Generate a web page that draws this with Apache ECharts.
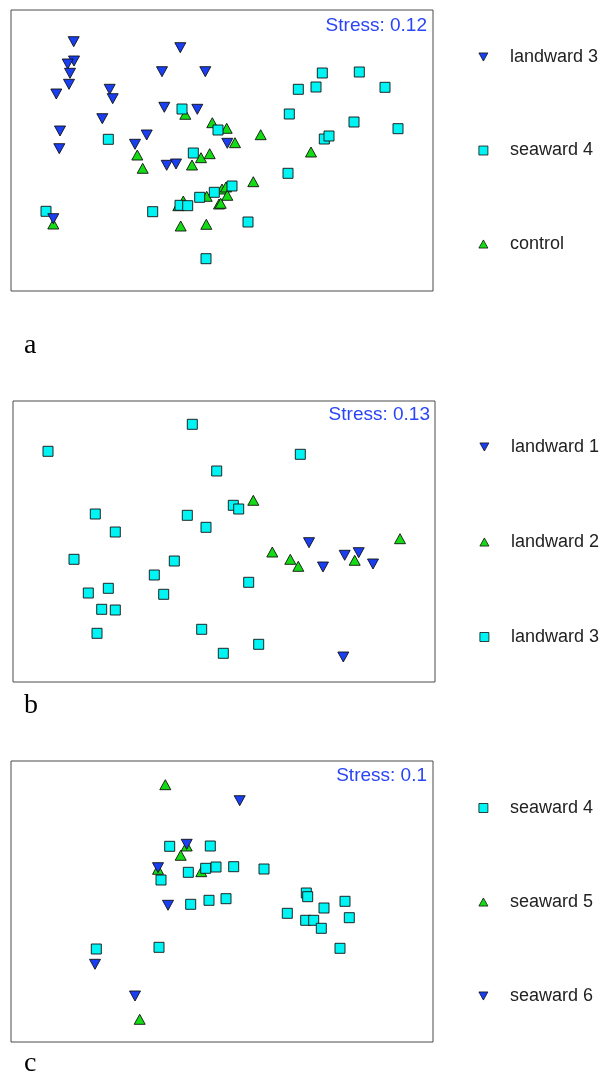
<!DOCTYPE html>
<html><head><meta charset="utf-8">
<script src="https://cdn.jsdelivr.net/npm/echarts@6/dist/echarts.min.js"></script>
<style>
html,body{margin:0;padding:0;background:#fff;width:605px;height:1075px;overflow:hidden}
.c{position:absolute;left:0;width:605px}
</style></head>
<body>
<div id="ca" class="c" style="top:0;height:370px"></div>
<div id="cb" class="c" style="top:380px;height:355px"></div>
<div id="cc" class="c" style="top:740px;height:335px"></div>
<script>
// ---- Data: MDS ordination coordinates (x to the right, y downward, arbitrary units) ----
const xRange = [0, 422];
const yRange = [0, 281];

// Panel a
const aNames = ['landward 3', 'seaward 4', 'control'];
const aStress = 'Stress: 0.12';
const a_landward3 = [[62.7,31.7],[169.3,37.7],[63,51],[56.7,54],[59,63.3],[151,61.7],[194.3,61.7],[58,74.3],[45.3,84],[98.7,79.3],[101.7,88.7],[153.3,97.3],[186.3,99.3],[91.3,108.7],[49,121],[135.7,125],[124,134.3],[48.3,138.7],[155.7,155.3],[165,154],[42.3,208.7],[216.3,133.3]];
const a_seaward4 = [[171,99],[97.3,129.3],[207,120],[182.3,143],[35,201.3],[141.7,201.7],[169,195.3],[176.7,195.7],[188.7,187.3],[203.3,182.3],[195,248.7],[311.3,63],[348.3,62],[287.3,79.3],[305,77],[374,77.3],[278.3,104],[343,112],[387,118.7],[313.3,129],[318,126],[277,163.3],[221,176],[237,212]];
const a_control = [[174.3,104.3],[201.3,112.7],[126.3,145],[131.7,158.3],[190,147.7],[198.7,143.7],[181,155],[167.3,195.7],[172.3,191],[195.7,186.3],[208,194],[169.7,216],[195.3,214.3],[42.3,214],[215.7,118.3],[249.7,124.7],[224,132.7],[300,142],[242.3,171.7],[211,179],[215,177],[216.3,185.3],[209.7,193.3]];

// Panel b
const bNames = ['landward 1', 'landward 2', 'landward 3'];
const bStress = 'Stress: 0.13';
const b_landward1 = [[296,141.7],[310,166],[331.7,154.3],[345.7,151.7],[360,163],[330.3,256]];
const b_landward2 = [[240.3,99.3],[259.3,151],[277.3,158.3],[285.3,165.3],[341.7,159.3],[387,137.7]];
const b_landward3 = [[179.3,23.3],[35,50.3],[203.7,70],[82.3,113],[174.3,114.3],[193,126.3],[102.3,131],[61,158.3],[161.3,160],[141.3,174],[75.3,192],[95.3,187.3],[150.7,193.3],[88.7,208.3],[102.3,209],[84,232.3],[188.7,228.3],[210.3,252.3],[287.3,53.3],[220.3,104.3],[225.7,108],[235.7,181.3],[245.7,243.3]];

// Panel c
const cNames = ['seaward 4', 'seaward 5', 'seaward 6'];
const cStress = 'Stress: 0.1';
const c_seaward4 = [[158.7,85.3],[199.3,85],[177.3,111.3],[194.7,107.3],[205,106],[150,119],[179.7,143.3],[198,139.3],[85.3,188],[148,186.3],[222.7,105.7],[253,108],[215,137.7],[295.3,132],[296.7,135.7],[334,140.3],[313,147],[276.3,152.3],[338.3,156.7],[294.7,159.3],[302.7,159.3],[310.3,167.3],[329,187.3]];
const c_seaward5 = [[154.3,23.7],[175.7,85],[169.7,94.3],[147,108.3],[190.3,110.7],[128.7,258.3]];
const c_seaward6 = [[175.7,83.3],[147,106.7],[157,144.3],[84,203.3],[124,235],[228.7,39.7]];

// ---- Styles ----
const BLUE = '#1a3ff2', CYAN = '#00f4f4', GREEN = '#14dc14';
const SYM = {
  down:  {symbol:'triangle', symbolSize:[11,10], symbolRotate:180},
  up:    {symbol:'triangle', symbolSize:[11,10], symbolRotate:0},
  square:{symbol:'rect', symbolSize:10, symbolRotate:0}
};
const LEG_ICON = {
  down: 'path://M0,0L10,0L5,9Z',
  up: 'path://M5,0L10,9L0,9Z',
  square: 'rect'
};
function ser(name, data, shape, color, z) {
  return Object.assign({
    type:'scatter', name, data, z, silent:true,
    itemStyle:{color, borderColor:'#111', borderWidth:0.9, opacity:1},
    emphasis:{disabled:true}
  }, SYM[shape]);
}
function panel(domId, cfg) {
  const chart = echarts.init(document.getElementById(domId), null, {renderer:'canvas'});
  chart.setOption({
    animation:false,
    backgroundColor:'#fff',
    grid:{left:cfg.left, top:cfg.top, width:422, height:281, show:true, borderColor:'#4a4a4a', borderWidth:1, backgroundColor:'transparent'},
    xAxis:{type:'value', min:xRange[0], max:xRange[1], show:false},
    yAxis:{type:'value', min:yRange[0], max:yRange[1], inverse:true, show:false},
    legend:{
      orient:'vertical', left:cfg.legLeft, top:cfg.legTop, padding:0,
      itemWidth:9, itemHeight:9, itemGap:cfg.legGap, selectedMode:false,
      symbolRotate:0,
      itemStyle:{borderWidth:0.8, borderColor:'#111'},
      data:cfg.names.map((n, i) => ({name:n, icon:LEG_ICON[cfg.shapes[i]]})),
      textStyle:{fontFamily:'"Liberation Sans", Arial, sans-serif', fontSize:18, color:'#222', lineHeight:18, padding:[0,0,0,17]}
    },
    graphic:[
      {type:'text', right:cfg.stressRight, top:cfg.stressTop, silent:true,
       style:{text:cfg.stress, font:'19px "Liberation Sans", Arial, sans-serif', fill:'#2a45f5'}},
      {type:'text', left:24, top:cfg.letterTop, silent:true,
       style:{text:cfg.letter, font:'28px "Liberation Serif", "Times New Roman", serif', fill:'#000'}}
    ],
    series:cfg.series
  });
}

panel('ca', {
  left:11, top:10, legLeft:478.5, legTop:48, legGap:75.5,
  names:aNames, shapes:['down','square','up'], stress:aStress, stressRight:178, stressTop:16, letter:'a', letterTop:332,
  series:[
    ser(aNames[2], a_control, 'up', GREEN, 2),
    ser(aNames[1], a_seaward4, 'square', CYAN, 3),
    ser(aNames[0], a_landward3, 'down', BLUE, 4)
  ]
});
panel('cb', {
  left:13, top:21, legLeft:479.5, legTop:58, legGap:77,
  names:bNames, shapes:['down','up','square'], stress:bStress, stressRight:175, stressTop:25, letter:'b', letterTop:312,
  series:[
    ser(bNames[2], b_landward3, 'square', CYAN, 2),
    ser(bNames[0], b_landward1, 'down', BLUE, 3),
    ser(bNames[1], b_landward2, 'up', GREEN, 4)
  ]
});
panel('cc', {
  left:11, top:21, legLeft:478.5, legTop:59, legGap:76,
  names:cNames, shapes:['square','up','down'], stress:cStress, stressRight:178, stressTop:26, letter:'c', letterTop:310,
  series:[
    ser(cNames[1], c_seaward5, 'up', GREEN, 2),
    ser(cNames[0], c_seaward4, 'square', CYAN, 3),
    ser(cNames[2], c_seaward6, 'down', BLUE, 4)
  ]
});
</script>
</body></html>
